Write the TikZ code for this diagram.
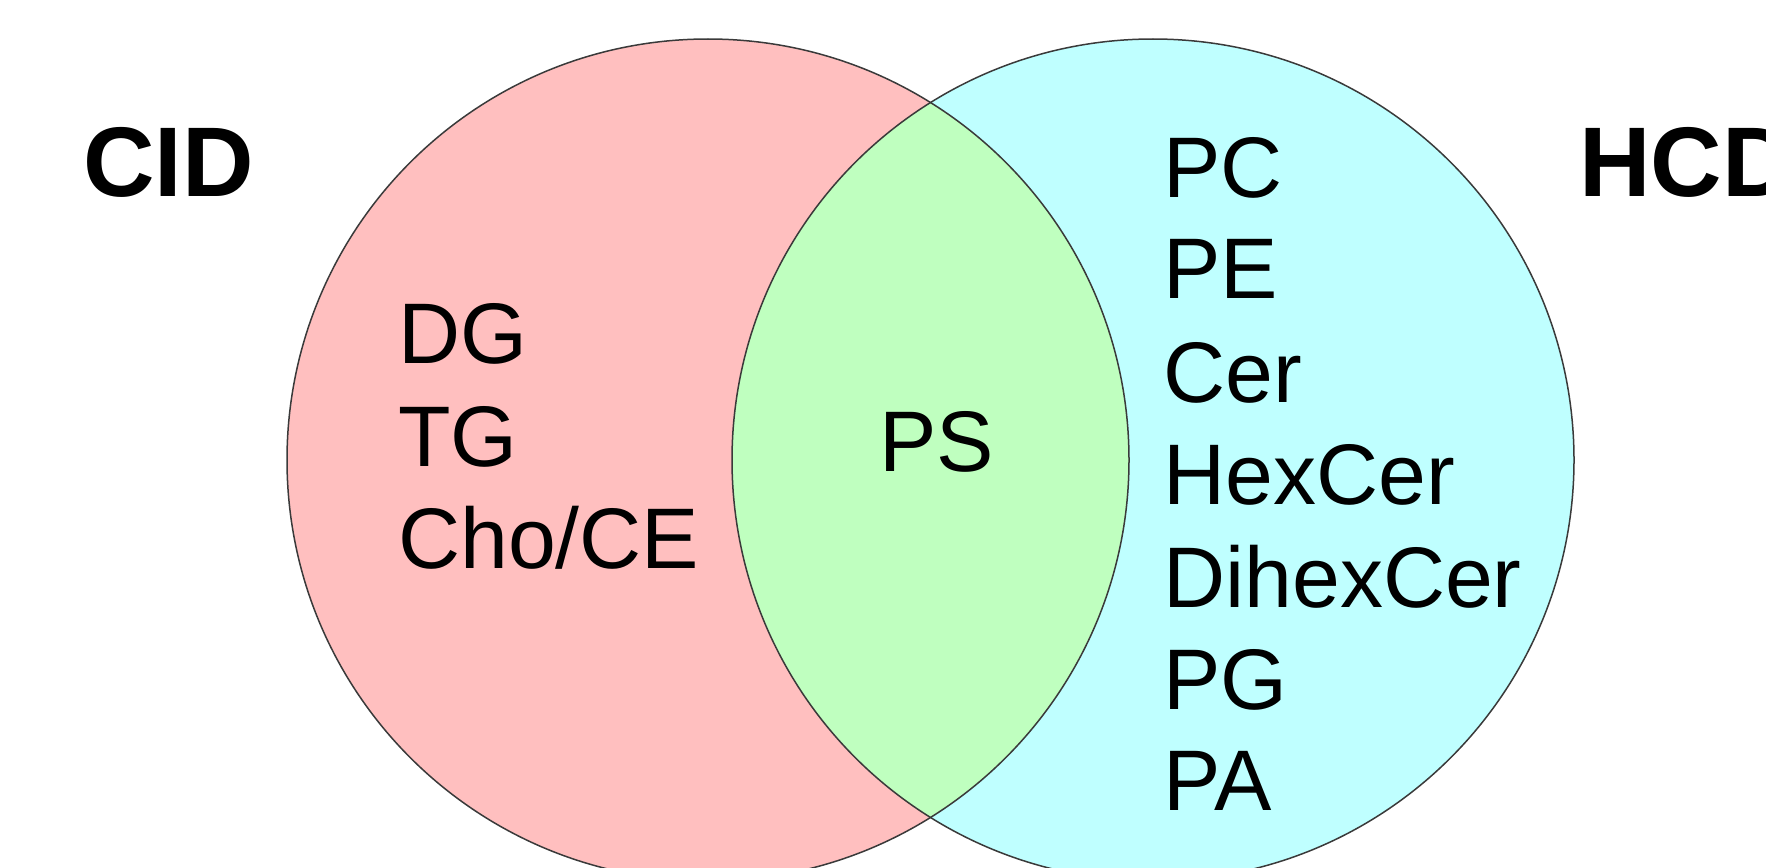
\documentclass[tikz,border=0pt]{standalone}
\usepackage{fontspec}
\setmainfont{Liberation Sans}
\definecolor{pinkfill}{HTML}{FFBFBF}
\definecolor{cyanfill}{HTML}{BFFFFF}
\definecolor{greenfill}{HTML}{BFFFBF}
\definecolor{edgegray}{HTML}{3A3A3A}
\begin{document}
\begin{tikzpicture}[x=1pt,y=-1pt,
  item/.style={anchor=base west,inner sep=0pt,font=\fontsize{86}{102}\selectfont},
  setlabel/.style={anchor=base west,inner sep=0pt,font=\fontsize{99}{115}\selectfont\bfseries},
  ring/.style={draw=edgegray,line width=1.5pt}]
\useasboundingbox (0,0) rectangle (1766,867);
\clip (0,0) rectangle (1766,867);
\coordinate (cl) at (708,460);
\coordinate (cr) at (1153,460);
\fill[pinkfill] (cl) circle[radius=421];
\fill[cyanfill] (cr) circle[radius=421];
\begin{scope}
  \clip (cl) circle[radius=421];
  \fill[greenfill] (cr) circle[radius=421];
\end{scope}
\draw[ring] (cl) circle[radius=421];
\draw[ring] (cr) circle[radius=421];
\node[setlabel] (cid) at (83,196) {CID};
\node[setlabel] (hcd) at (1579,196) {HCD};
\node[item] (dg) at (398,363) {DG};
\node[item] (tg) at (398,466) {TG};
\node[item] (cho) at (398,568) {Cho/CE};
\node[item] (ps) at (879,471) {PS};
\node[item] (pc) at (1163,197) {PC};
\node[item] (pe) at (1163,298) {PE};
\node[item] (cer) at (1163,402) {Cer};
\node[item] (hexcer) at (1163,504) {HexCer};
\node[item] (dihex) at (1163,607) {DihexCer};
\node[item] (pg) at (1163,709) {PG};
\node[item] (pa) at (1163,810) {PA};
\end{tikzpicture}
\end{document}
